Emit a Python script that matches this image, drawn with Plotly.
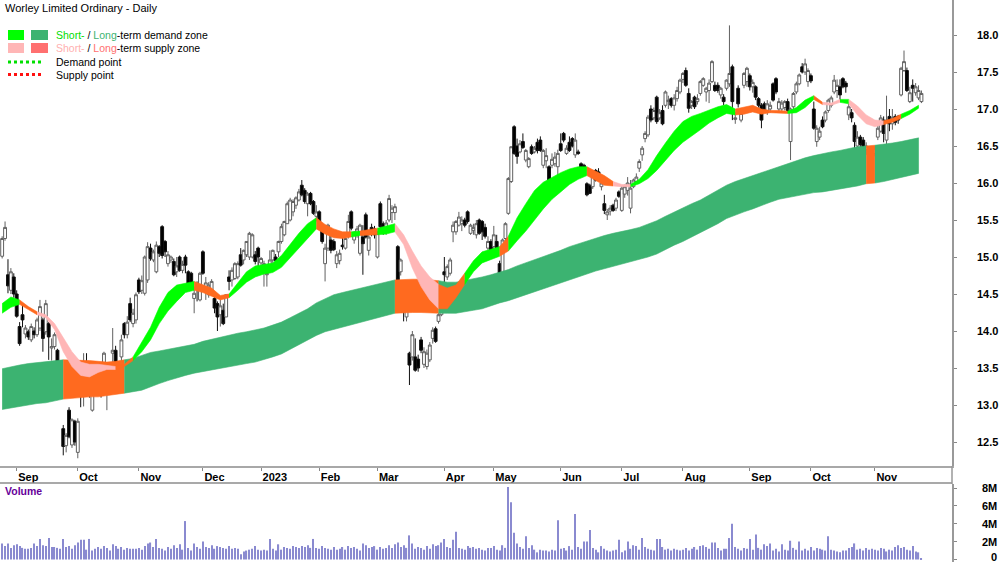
import plotly.graph_objects as go
import pandas as pd

TITLE = "Worley Limited Ordinary - Daily"

# ASX trading sessions shown (Aug 25 2022 -> Nov 23 2023)
holidays = ["2022-09-22", "2022-12-26", "2022-12-27", "2023-01-02", "2023-01-26",
            "2023-04-07", "2023-04-10", "2023-04-25", "2023-06-12"]
sessions = pd.bdate_range("2022-08-25", "2023-11-23")
sessions = sessions[~sessions.isin(pd.to_datetime(holidays))]

opens = [15.01,15.25,14.76,14.55,14.73,14.50,14.06,14.22,13.96,13.99,
         13.88,14.00,13.95,14.04,14.15,13.99,14.10,13.77,13.79,13.74,
         13.28,12.68,12.45,12.93,12.46,12.78,12.36,13.29,13.25,13.56,
         13.43,12.93,13.34,13.38,13.34,13.47,13.32,13.50,13.70,13.74,
         13.49,13.65,14.10,13.95,14.37,14.10,14.15,14.69,14.55,14.51,
         14.69,15.12,14.96,14.80,15.14,15.41,15.21,14.91,14.96,14.94,
         14.80,15.00,14.82,15.00,14.80,14.78,14.44,14.62,14.42,15.07,
         14.55,14.49,14.55,14.44,14.37,14.22,14.28,14.19,14.73,14.69,
         14.71,14.73,15.03,14.96,15.03,15.00,15.00,15.03,15.12,14.92,
         14.82,14.76,14.82,14.96,15.00,15.07,15.21,15.30,15.45,15.50,
         15.61,15.70,15.77,15.97,15.90,15.72,15.86,15.75,15.55,15.61,
         15.39,14.91,15.12,15.23,15.21,14.91,14.95,15.16,15.12,15.32,
         15.61,15.23,15.30,15.05,15.27,15.57,15.09,15.40,15.38,15.00,
         15.72,15.45,15.33,15.50,15.60,15.60,15.14,14.80,14.55,14.19,
         13.70,13.65,13.65,13.62,13.88,13.55,13.52,13.61,13.90,14.03,
         14.13,14.22,14.80,14.73,14.78,15.34,15.34,15.43,15.45,15.50,
         15.61,15.32,15.36,15.30,15.50,15.48,15.40,15.12,15.21,15.14,
         15.21,14.91,14.73,15.25,15.59,16.02,16.76,16.50,16.42,16.56,
         16.31,16.22,16.49,16.42,16.55,16.58,16.24,16.30,16.22,16.24,
         16.26,16.22,16.53,16.67,16.40,16.55,16.60,16.38,16.42,16.26,
         16.24,15.99,15.97,15.95,16.17,16.15,15.95,15.72,15.57,15.62,
         15.70,15.66,15.88,15.63,15.85,15.90,15.66,15.95,16.02,16.20,
         16.38,16.60,16.65,17.00,16.88,17.16,16.88,16.98,17.05,17.10,
         17.14,17.05,17.14,17.23,17.40,17.52,17.21,17.05,17.16,17.10,
         17.21,17.32,17.23,17.25,17.37,17.32,17.32,17.19,17.16,17.28,
         17.34,17.57,16.86,17.28,16.85,17.32,17.37,17.45,17.30,17.30,
         17.14,17.05,17.07,16.96,17.00,17.34,17.41,17.00,17.00,17.02,
         17.10,16.56,17.03,17.23,17.34,17.57,17.50,17.37,17.45,17.00,
         16.56,16.62,16.85,16.85,16.98,17.05,17.23,17.25,17.30,17.41,
         17.35,16.92,16.95,16.78,16.50,16.62,16.58,16.45,16.29,16.22,
         16.40,16.62,16.70,16.85,16.58,16.90,16.80,16.90,16.90,17.19,
         17.52,17.52,17.10,17.32,17.22,17.15,17.10]
highs = [15.28,15.48,14.97,14.85,14.78,14.55,14.12,14.35,14.08,14.02,
         14.10,14.05,14.18,14.42,14.18,14.42,14.12,13.90,13.98,13.76,
         13.38,12.73,12.62,12.97,12.82,12.80,12.82,13.33,13.70,13.70,
         13.45,13.42,13.55,13.42,13.38,13.72,13.56,13.56,14.04,13.80,
         13.55,13.95,14.12,14.20,14.45,14.30,14.52,14.72,14.75,15.02,
         15.20,15.18,15.10,15.21,15.16,15.43,15.23,15.08,15.02,14.98,
         15.00,15.02,14.95,15.03,14.82,14.80,14.60,14.67,14.80,15.09,
         14.73,14.66,14.70,14.50,14.40,14.42,14.37,14.49,14.82,14.86,
         14.93,14.94,15.12,15.10,15.21,15.34,15.32,15.08,15.14,15.00,
         14.95,14.90,15.09,15.10,15.04,15.22,15.45,15.49,15.75,15.80,
         15.78,15.82,15.92,16.04,15.93,15.88,15.88,15.77,15.70,15.63,
         15.41,15.18,15.45,15.30,15.24,15.08,15.10,15.28,15.27,15.57,
         15.63,15.35,15.42,15.45,15.43,15.60,15.30,15.45,15.42,15.35,
         15.75,15.48,15.50,15.84,15.70,15.72,15.16,14.98,14.60,14.33,
         13.72,14.00,13.90,13.68,13.92,13.78,13.75,13.85,14.05,14.06,
         14.24,14.46,15.00,14.90,14.99,15.48,15.50,15.61,15.55,15.53,
         15.63,15.45,15.45,15.50,15.52,15.50,15.45,15.28,15.24,15.42,
         15.30,14.95,15.25,15.47,16.08,16.49,16.78,16.60,16.58,16.67,
         16.46,16.35,16.52,16.50,16.60,16.63,16.46,16.47,16.24,16.40,
         16.42,16.45,16.67,16.69,16.51,16.63,16.62,16.67,16.45,16.28,
         16.26,16.01,15.99,16.15,16.19,16.20,16.02,15.84,15.65,15.70,
         15.72,15.80,15.90,15.97,15.98,16.08,16.04,16.06,16.13,16.32,
         16.50,16.70,16.92,17.05,17.02,17.18,17.00,17.05,17.25,17.18,
         17.16,17.20,17.30,17.41,17.50,17.56,17.28,17.12,17.18,17.20,
         17.39,17.43,17.30,17.40,17.66,17.37,17.36,17.30,17.20,17.40,
         18.13,17.60,16.96,17.32,17.00,17.50,17.57,17.48,17.40,17.32,
         17.16,17.08,17.10,17.12,17.10,17.36,17.43,17.15,17.12,17.12,
         17.14,17.02,17.23,17.37,17.48,17.62,17.68,17.55,17.48,17.10,
         16.78,16.76,16.90,16.98,17.14,17.18,17.46,17.40,17.40,17.43,
         17.38,17.10,17.00,16.82,16.70,16.65,16.62,16.55,16.33,16.45,
         16.50,16.80,16.92,16.90,17.18,17.00,17.00,16.93,16.92,17.57,
         17.79,17.56,17.30,17.40,17.35,17.32,17.25]
lows = [14.98,15.22,14.51,14.50,14.45,14.18,13.80,14.05,13.90,13.88,
        13.85,13.90,13.92,14.00,13.72,13.95,13.61,13.60,13.75,13.52,
        13.18,12.32,12.36,12.55,12.42,12.45,12.28,12.97,12.98,13.22,
        13.10,12.91,13.30,13.15,13.10,13.25,12.93,13.25,13.38,13.40,
        13.27,13.58,13.90,13.90,14.12,14.05,14.10,14.50,14.50,14.48,
        14.65,14.95,14.93,14.78,15.00,14.98,15.00,14.87,14.92,14.74,
        14.73,14.80,14.78,14.78,14.58,14.58,14.24,14.40,14.40,14.76,
        14.42,14.45,14.50,14.24,14.00,14.06,14.08,14.19,14.55,14.60,
        14.69,14.70,14.87,14.90,15.00,14.96,14.98,14.90,14.87,14.88,
        14.60,14.60,14.78,14.92,14.93,15.00,15.18,15.28,15.45,15.48,
        15.55,15.65,15.75,15.82,15.72,15.55,15.70,15.57,15.48,15.40,
        15.18,14.67,15.08,15.05,15.08,14.85,14.90,15.10,15.10,15.25,
        15.36,15.18,15.26,15.02,14.76,15.25,15.02,15.28,15.25,14.98,
        15.37,15.30,15.30,15.47,15.46,15.50,14.67,14.75,14.13,14.13,
        13.27,13.60,13.45,13.45,13.70,13.50,13.48,13.58,13.83,13.84,
        14.10,14.20,14.58,14.69,14.75,15.20,15.30,15.41,15.35,15.40,
        15.45,15.30,15.30,15.25,15.30,15.23,15.25,15.08,15.06,15.10,
        15.09,14.66,14.70,15.22,15.57,16.00,16.38,16.26,16.40,16.46,
        16.28,16.20,16.38,16.40,16.40,16.42,16.20,16.20,16.02,16.20,
        16.22,16.00,16.42,16.55,16.38,16.42,16.48,16.34,16.38,16.08,
        16.10,15.82,15.85,15.92,16.02,16.05,15.90,15.58,15.50,15.56,
        15.61,15.62,15.80,15.61,15.80,15.83,15.59,15.93,16.00,16.15,
        16.30,16.55,16.62,16.82,16.85,16.80,16.85,16.78,17.02,17.00,
        17.02,16.98,17.10,17.20,17.35,17.30,16.95,17.00,17.00,17.06,
        17.18,17.30,17.10,17.08,17.35,17.23,17.22,17.14,17.05,17.25,
        17.30,16.85,16.80,17.02,16.82,17.28,17.30,17.25,17.22,17.12,
        17.02,16.74,16.96,16.92,16.95,17.10,17.20,16.96,16.97,16.98,
        16.95,16.31,17.00,17.20,17.32,17.48,17.46,17.30,17.35,16.72,
        16.49,16.58,16.74,16.82,16.95,17.02,17.20,17.15,17.12,17.28,
        17.22,16.85,16.82,16.42,16.45,16.48,16.40,16.38,16.15,16.20,
        16.36,16.58,16.68,16.55,16.44,16.70,16.72,16.78,16.80,17.17,
        17.50,17.23,17.08,17.10,17.18,17.12,17.08]
closes = [15.25,15.40,14.61,14.80,14.50,14.20,13.83,14.15,14.04,13.92,
          14.06,13.95,14.15,14.33,13.90,14.37,13.92,13.79,13.95,13.54,
          13.27,12.44,12.59,12.57,12.80,12.50,12.78,13.16,13.38,13.34,
          13.16,13.38,13.52,13.18,13.16,13.70,13.38,13.28,13.74,13.50,
          13.29,13.88,13.95,14.12,14.15,14.24,14.49,14.53,14.68,15.00,
          15.14,14.98,15.07,15.16,15.05,15.02,15.07,15.03,15.00,14.76,
          14.88,14.82,14.90,14.89,14.60,14.62,14.51,14.58,14.78,14.78,
          14.65,14.62,14.67,14.31,14.19,14.34,14.10,14.49,14.67,14.82,
          14.91,14.91,14.89,15.09,15.21,15.32,15.30,14.94,15.00,14.98,
          14.91,14.78,14.96,15.09,14.95,15.21,15.41,15.48,15.72,15.77,
          15.75,15.80,15.88,15.84,15.75,15.85,15.72,15.59,15.61,15.45,
          15.21,15.12,15.43,15.09,15.10,15.03,15.05,15.14,15.25,15.48,
          15.39,15.32,15.38,15.43,15.18,15.27,15.27,15.32,15.30,15.32,
          15.41,15.33,15.46,15.79,15.66,15.68,14.69,14.96,14.26,14.31,
          13.54,13.95,13.47,13.50,13.74,13.72,13.70,13.81,14.01,13.86,
          14.22,14.42,14.76,14.87,14.96,15.43,15.48,15.54,15.50,15.43,
          15.48,15.43,15.40,15.45,15.32,15.34,15.28,15.21,15.09,15.30,
          15.12,14.73,15.23,15.45,16.06,16.49,16.40,16.36,16.53,16.48,
          16.44,16.33,16.40,16.47,16.44,16.44,16.44,16.37,16.04,16.32,
          16.35,16.40,16.44,16.58,16.47,16.44,16.50,16.58,16.40,16.11,
          16.12,15.84,15.86,16.10,16.04,16.08,16.00,15.63,15.61,15.66,
          15.63,15.77,15.82,15.93,15.95,16.00,15.93,16.04,16.08,16.29,
          16.47,16.67,16.89,16.85,16.98,16.83,16.95,16.80,17.23,17.12,
          17.05,17.15,17.25,17.39,17.48,17.32,17.01,17.10,17.03,17.14,
          17.37,17.41,17.28,17.35,17.64,17.25,17.25,17.28,17.10,17.39,
          17.48,17.10,16.88,17.07,16.94,17.48,17.55,17.30,17.36,17.16,
          17.05,16.85,16.99,17.07,17.05,17.12,17.23,17.10,17.08,17.10,
          16.98,17.00,17.21,17.34,17.46,17.50,17.61,17.52,17.38,16.74,
          16.74,16.70,16.76,16.96,17.12,17.15,17.39,17.32,17.19,17.30,
          17.30,17.03,16.88,16.56,16.62,16.52,16.46,16.50,16.20,16.42,
          16.47,16.74,16.88,16.67,16.85,16.80,16.88,16.82,16.85,17.55,
          17.64,17.25,17.22,17.28,17.30,17.25,17.21]
volume_m = [1.8,1.5,1.8,1.3,1.6,1.7,1.5,1.3,1.2,1.2,
            1.3,1.8,1.5,2.3,1.6,1.5,2.4,1.4,1.4,1.3,
            1.2,2.3,1.4,1.5,1.2,1.6,1.9,2.2,2.2,1.1,
            2.3,1.0,1.2,1.4,1.2,1.5,1.3,1.0,1.7,1.5,
            1.2,1.4,1.1,1.3,1.2,1.2,1.2,1.3,1.1,1.5,
            1.8,1.9,1.4,2.3,1.3,1.2,1.0,1.4,1.2,1.6,
            1.3,1.7,1.1,4.3,1.3,1.0,1.8,1.4,1.2,2.0,
            1.4,1.3,1.6,1.2,1.5,1.4,1.3,1.2,1.5,1.2,
            1.3,1.2,0.6,0.9,1.0,1.1,1.2,1.5,1.1,1.0,
            1.1,1.0,2.3,1.2,1.0,1.7,1.1,1.4,1.3,1.2,
            1.5,1.4,1.3,1.5,1.4,1.6,1.3,2.3,1.3,1.2,
            1.5,1.3,1.2,1.1,1.4,1.1,1.2,1.4,1.1,1.5,
            1.3,1.4,1.2,1.0,1.8,1.6,1.3,1.4,1.5,1.1,
            1.4,1.2,1.3,1.6,1.3,1.7,1.9,1.4,1.6,1.3,
            2.7,1.8,1.2,1.4,1.3,1.1,1.5,1.2,1.7,1.5,
            1.6,1.9,2.3,1.4,1.3,2.2,3.1,1.3,1.2,1.1,
            1.5,1.3,1.4,1.2,1.3,1.1,1.0,1.3,1.3,1.5,
            1.1,1.0,1.6,1.3,8.1,6.4,3.0,1.8,1.4,1.2,
            2.6,1.3,1.6,1.1,0.8,1.1,1.0,1.0,0.9,1.1,
            1.0,4.4,1.2,1.3,1.0,1.5,1.1,5.1,1.4,1.2,
            2.0,2.0,3.3,1.3,1.1,0.8,1.5,1.2,1.0,0.9,
            1.0,1.1,2.2,0.8,1.0,2.0,1.2,1.6,1.5,1.1,
            2.4,1.4,1.2,1.1,1.0,2.3,2.3,1.4,1.1,1.2,
            1.0,1.2,1.1,1.0,1.1,1.3,1.0,1.2,1.4,1.1,
            1.5,1.6,1.4,1.2,1.9,1.9,1.3,1.0,1.2,1.2,
            2.4,4.0,1.4,1.2,1.0,1.3,1.2,2.3,1.1,2.8,
            1.3,1.1,1.7,1.5,1.8,1.0,1.2,0.9,1.7,1.1,
            1.0,2.1,1.3,1.1,2.0,1.0,1.2,1.0,1.4,1.0,
            1.3,1.2,1.1,1.0,2.6,1.1,1.0,0.9,0.8,1.0,
            1.0,1.3,1.4,1.8,1.1,1.2,1.0,1.3,1.1,1.2,
            1.1,1.0,1.3,1.2,0.9,1.1,1.0,1.4,1.6,1.3,
            1.4,1.1,1.0,1.5,0.9,0.8,0.15]

# zone ribbons, read every third session
short_upper = [14.37,14.46,14.42,14.33,14.26,14.22,14.10,13.90,13.72,13.58,
               13.55,13.55,13.54,13.52,13.55,13.65,13.85,14.05,14.32,14.52,
               14.62,14.65,14.67,14.62,14.58,14.48,14.50,14.65,14.80,14.88,
               14.90,14.92,15.02,15.17,15.32,15.45,15.53,15.44,15.38,15.34,
               15.34,15.35,15.37,15.39,15.42,15.45,15.30,15.08,14.88,14.73,
               14.63,14.58,14.62,14.78,14.95,15.07,15.10,15.14,15.28,15.53,
               15.72,15.90,16.01,16.08,16.14,16.19,16.22,16.22,16.16,16.10,
               16.02,15.98,15.98,16.05,16.18,16.37,16.54,16.70,16.83,16.90,
               16.94,16.99,17.03,17.06,17.00,17.03,17.05,17.00,16.98,16.98,
               16.97,17.02,17.12,17.18,17.09,17.08,17.13,17.13,17.04,16.92,
               16.85,16.84,16.87,16.93,16.98,17.05]
short_lower = [14.24,14.32,14.36,14.29,14.22,14.18,14.02,13.72,13.52,13.40,
               13.38,13.44,13.48,13.48,13.52,13.60,13.72,13.88,14.10,14.27,
               14.40,14.52,14.55,14.52,14.47,14.42,14.45,14.55,14.66,14.73,
               14.77,14.79,14.86,14.98,15.11,15.25,15.38,15.31,15.26,15.25,
               15.27,15.29,15.30,15.30,15.31,15.34,15.17,14.85,14.60,14.42,
               14.30,14.30,14.45,14.63,14.80,14.92,14.97,15.01,15.08,15.22,
               15.35,15.50,15.65,15.78,15.88,15.98,16.05,16.10,16.03,15.97,
               15.96,15.95,15.95,15.99,16.06,16.17,16.30,16.44,16.55,16.64,
               16.72,16.81,16.88,16.94,16.92,16.93,16.96,16.93,16.95,16.95,
               16.94,16.95,17.02,17.13,17.06,17.05,17.09,17.07,16.92,16.80,
               16.76,16.79,16.82,16.87,16.93,17.01]
short_zone_runs = [("G", 2), ("O", 2), ("P", 9), ("O", 2), ("G", 7), ("O", 4), ("G", 10),
                   ("O", 4), ("G", 1), ("O", 2), ("G", 2), ("P", 5), ("O", 3), ("G", 4),
                   ("O", 1), ("G", 9), ("O", 3), ("P", 2), ("G", 12), ("O", 6), ("G", 3),
                   ("O", 1), ("P", 2), ("G", 1), ("P", 4), ("O", 2), ("G", 3)]
long_upper = [13.49,13.52,13.54,13.56,13.57,13.59,13.60,13.61,13.61,13.61,
              13.60,13.59,13.58,13.59,13.61,13.63,13.67,13.71,13.73,13.75,
              13.78,13.80,13.82,13.86,13.89,13.92,13.94,13.97,13.99,14.01,
              14.04,14.08,14.12,14.18,14.24,14.30,14.38,14.44,14.49,14.52,
              14.55,14.58,14.61,14.63,14.66,14.69,14.70,14.70,14.70,14.69,
              14.68,14.66,14.66,14.68,14.70,14.73,14.76,14.79,14.83,14.88,
              14.92,14.97,15.01,15.05,15.09,15.14,15.18,15.22,15.26,15.29,
              15.32,15.34,15.37,15.40,15.44,15.49,15.55,15.61,15.66,15.72,
              15.77,15.84,15.90,15.97,16.02,16.06,16.10,16.14,16.19,16.23,
              16.26,16.31,16.34,16.37,16.40,16.42,16.44,16.47,16.49,16.50,
              16.51,16.52,16.54,16.56,16.58,16.61]
long_lower = [12.94,12.96,12.98,13.00,13.02,13.03,13.05,13.08,13.10,13.10,
              13.11,13.11,13.12,13.14,13.16,13.18,13.20,13.24,13.29,13.33,
              13.37,13.40,13.43,13.45,13.47,13.49,13.52,13.54,13.56,13.58,
              13.61,13.65,13.69,13.75,13.81,13.88,13.94,13.99,14.02,14.05,
              14.08,14.12,14.15,14.18,14.21,14.24,14.25,14.25,14.25,14.25,
              14.24,14.24,14.24,14.26,14.28,14.30,14.34,14.38,14.41,14.44,
              14.48,14.52,14.56,14.60,14.64,14.69,14.73,14.77,14.81,14.84,
              14.87,14.90,14.93,14.97,15.00,15.04,15.10,15.16,15.21,15.27,
              15.32,15.39,15.45,15.52,15.57,15.61,15.65,15.69,15.74,15.78,
              15.81,15.83,15.85,15.87,15.88,15.89,15.91,15.94,15.96,15.99,
              16.00,16.02,16.04,16.07,16.10,16.13]
long_zone_runs = [("L", 7), ("O", 7), ("L", 31), ("O", 5), ("L", 49), ("O", 1), ("L", 6)]

price_ticks = [12.5, 13.0, 13.5, 14.0, 14.5, 15.0, 15.5, 16.0, 16.5, 17.0, 17.5, 18.0]
vol_ticks = [0, 2, 4, 6, 8]
vol_tick_text = ["0", "2M", "4M", "6M", "8M"]

ZONE_COLORS = {"L": "#3cb371", "O": "#ff6a1f", "G": "#00ff00", "P": "#ffb6b6"}
FONT = "Liberation Sans, Arial, sans-serif"

n = len(closes)
assert len(sessions) == n
xi = list(range(n))
band_x = xi[0::3]


def expand(runs):
    out = []
    for z, c in runs:
        out += [z] * c
    return out


# month ticks at first session of each month
tick_idx, tick_txt, prev = [], [], None
for i, d in enumerate(sessions):
    key = (d.year, d.month)
    if key != prev:
        if prev is not None:
            tick_idx.append(i)
            tick_txt.append(str(d.year) if d.month == 1 else d.strftime("%b"))
        prev = key

fig = go.Figure()


def add_ribbon(xs, up, lo, zones):
    m = len(xs)
    i = 0
    while i < m - 1:
        z = zones[i]
        j = i
        while j < m - 1 and zones[j] == z:
            j += 1
        sx = xs[i:j + 1]
        fig.add_trace(go.Scatter(
            x=sx + sx[::-1], y=up[i:j + 1] + lo[i:j + 1][::-1],
            fill="toself", fillcolor=ZONE_COLORS[z], mode="lines",
            line=dict(width=0.6, color=ZONE_COLORS[z]),
            hoverinfo="skip", showlegend=False, xaxis="x", yaxis="y"))
        i = j


add_ribbon(band_x, long_upper, long_lower, expand(long_zone_runs))
add_ribbon(band_x, short_upper, short_lower, expand(short_zone_runs))

fig.add_trace(go.Candlestick(
    x=xi, open=opens, high=highs, low=lows, close=closes,
    increasing=dict(line=dict(color="#606060", width=1), fillcolor="#ffffff"),
    decreasing=dict(line=dict(color="#101010", width=1), fillcolor="#000000"),
    whiskerwidth=0, showlegend=False, hoverinfo="skip", xaxis="x", yaxis="y"))

fig.add_trace(go.Bar(
    x=xi, y=volume_m, width=0.4, marker=dict(color="#8a8ad0", line=dict(width=0)),
    showlegend=False, hoverinfo="skip", xaxis="x2", yaxis="y2"))

W, H, PLOT_W = 1000, 562, 952


def px(v):
    return v / PLOT_W


def py(v):
    return 1 - v / H


x_range = [-0.74, 326.5]
axis_font = dict(family=FONT, size=11, color="black", weight="bold")

fig.update_layout(
    width=W, height=H, margin=dict(l=0, r=W - PLOT_W, t=0, b=0),
    paper_bgcolor="white", plot_bgcolor="white", showlegend=False, hovermode=False,
    boxgap=0.02, boxgroupgap=0,
    xaxis=dict(domain=[0, 1], range=x_range, anchor="y", tickvals=tick_idx, ticktext=tick_txt,
               ticks="outside", ticklen=3, tickcolor="#888888", ticklabelposition="outside right",
               tickfont=axis_font, showgrid=False, zeroline=False, showline=True,
               linecolor="#a8a8a8", linewidth=2, rangeslider=dict(visible=False), fixedrange=True),
    yaxis=dict(domain=[py(466), 1], range=[12.1757, 18.473], side="right", anchor="x",
               tickvals=price_ticks, ticktext=[f"{v:.1f}" for v in price_ticks],
               ticks="outside", ticklen=3, tickcolor="#888888", tickfont=axis_font,
               ticklabelstandoff=18, showgrid=False, zeroline=False, showline=True,
               linecolor="#999999", linewidth=1.5),
    xaxis2=dict(domain=[0, 1], range=x_range, anchor="y2", showticklabels=False, ticks="",
                showgrid=False, zeroline=False, showline=False),
    yaxis2=dict(domain=[0, py(484)], range=[-0.28, 8.447], side="right", anchor="x2",
                tickvals=vol_ticks, ticks="outside", ticklen=3, tickcolor="#888888",
                showticklabels=False, showgrid=False, zeroline=False, showline=True,
                linecolor="#999999", linewidth=1.5),
)

shapes = [
    dict(type="line", xref="paper", yref="paper", x0=0, x1=1, y0=py(483), y1=py(483),
         line=dict(color="#8c8c8c", width=1.5)),
    dict(type="line", xref="paper", yref="paper", x0=1, x1=1, y0=py(466), y1=py(484),
         line=dict(color="#999999", width=1.5)),
    # legend swatches
    dict(type="rect", xref="paper", yref="paper", x0=px(8), x1=px(24), y0=py(40), y1=py(30),
         fillcolor="#00ff00", line=dict(width=0)),
    dict(type="rect", xref="paper", yref="paper", x0=px(31), x1=px(48), y0=py(40), y1=py(30),
         fillcolor="#3cb371", line=dict(width=0)),
    dict(type="rect", xref="paper", yref="paper", x0=px(8), x1=px(24), y0=py(53), y1=py(43),
         fillcolor="#ffb6b6", line=dict(width=0)),
    dict(type="rect", xref="paper", yref="paper", x0=px(31), x1=px(48), y0=py(53), y1=py(43),
         fillcolor="#ff7070", line=dict(width=0)),
    dict(type="line", xref="paper", yref="paper", x0=px(8), x1=px(44), y0=py(62), y1=py(62),
         line=dict(color="#00e000", width=3, dash="dot")),
    dict(type="line", xref="paper", yref="paper", x0=px(8), x1=px(44), y0=py(74.5), y1=py(74.5),
         line=dict(color="#ff1010", width=3, dash="dot")),
]
fig.update_layout(shapes=shapes)

legend_font = dict(family=FONT, size=10.5, color="black")
ann = [
    dict(text=TITLE, x=px(3), y=py(8), xanchor="left", yanchor="middle",
         font=dict(family=FONT, size=11, color="black")),
    dict(text='<span style="color:#00dd00">Short-</span> / <span style="color:#3cb371">Long</span>-term demand zone',
         x=px(54), y=py(35.5), xanchor="left", yanchor="middle", font=legend_font),
    dict(text='<span style="color:#ffb0b0">Short-</span> / <span style="color:#ff7070">Long</span>-term supply zone',
         x=px(54), y=py(48.5), xanchor="left", yanchor="middle", font=legend_font),
    dict(text="Demand point", x=px(54), y=py(62), xanchor="left", yanchor="middle", font=legend_font),
    dict(text="Supply point", x=px(54), y=py(74.5), xanchor="left", yanchor="middle", font=legend_font),
    dict(text="Volume", x=px(3), y=py(491), xanchor="left", yanchor="middle",
         font=dict(family=FONT, size=10.5, color="#660099", weight="bold")),
]
for v, t in zip(vol_ticks, vol_tick_text):
    ann.append(dict(text=t, x=px(999), xref="paper", y=v, yref="y2", xanchor="right",
                    yanchor="middle", yshift=(3 if v == 0 else 0), font=axis_font))
for a in ann:
    a.setdefault("xref", "paper")
    a.setdefault("yref", "paper")
    a["showarrow"] = False
fig.update_layout(annotations=ann)

fig.write_html("out.html")
